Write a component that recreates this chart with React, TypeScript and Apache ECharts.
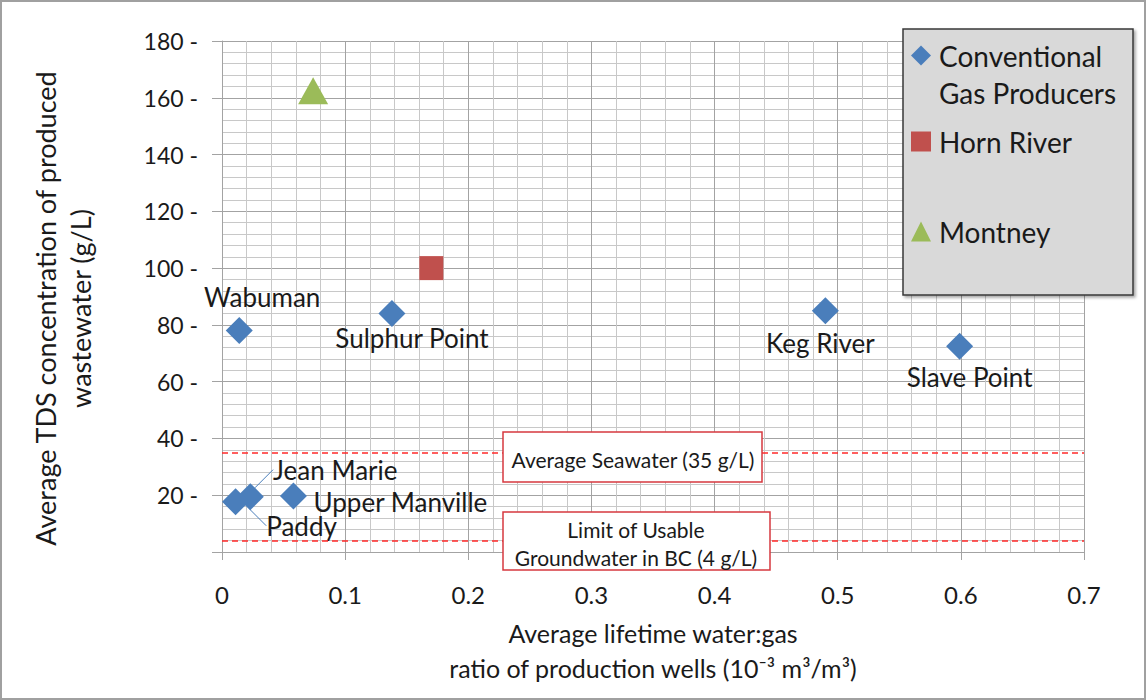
import React, { useEffect, useRef } from 'react';
import * as echarts from 'echarts';

// ---- Data ----
const conventionalNames = ['Wabuman', 'Sulphur Point', 'Keg River', 'Slave Point', 'Jean Marie', 'Upper Manville', 'Paddy'];
const conventionalX = [0.014, 0.138, 0.49, 0.599, 0.023, 0.058, 0.011];
const conventionalY = [78, 84, 85, 72.5, 19.5, 19.7, 17.7];
const hornRiverX = [0.17];
const hornRiverY = [100];
const montneyX = [0.074];
const montneyY = [162.5];
const seawaterTDS = 35;
const groundwaterTDS = 4;
const seriesNames = ['Conventional\nGas Producers', 'Horn River', 'Montney'];
const xAxisTitle = 'Average lifetime water:gas\nratio of production wells (10\u207B\u00B3 m\u00B3/m\u00B3)';
const yAxisTitle = 'Average TDS concentration of produced\nwastewater (g/L)';
const seawaterLabel = 'Average Seawater (35 g/L)';
const groundwaterLabel = 'Limit of Usable\nGroundwater in BC (4 g/L)';
const leaderLineNames = ['Jean Marie', 'Paddy'];

// ---- Styling (label offsets in px) ----
const labelOffsets: number[][] = [
  [23, -34],
  [20, 24],
  [-5, 32],
  [10, 31],
  [85, -27],
  [107, 6],
  [66, 24],
];

const FONT = "Lato, 'Open Sans', sans-serif";
const TXT = '#1a1a1a';
const GRID_MAJOR = '#a3a3a3';
const GRID_MINOR = '#c8c8c8';

export default function App() {
  const ref = useRef<HTMLDivElement>(null);

  useEffect(() => {
    document.body.style.margin = '0';
    const chart = echarts.init(ref.current as HTMLDivElement, undefined, { renderer: 'svg' });

    const conventionalData = conventionalNames.map((n, i) => ({
      name: n,
      value: [conventionalX[i], conventionalY[i]],
      labelLine: { show: leaderLineNames.includes(n), lineStyle: { color: '#4a7ebb', width: 1 } },
    }));

    const legendBase = {
      orient: 'vertical',
      padding: 0,
      itemWidth: 20,
      itemHeight: 20,
      selectedMode: false,
      textStyle: { fontFamily: FONT, fontSize: 28, color: TXT, lineHeight: 37, padding: [0, 0, 0, 3] },
    };

    const option: any = {
      animation: false,
      backgroundColor: '#ffffff',
      textStyle: { fontFamily: FONT },
      grid: { left: 222, top: 41, right: 62, bottom: 148 },
      xAxis: {
        type: 'value',
        min: 0,
        max: 0.7,
        interval: 0.1,
        name: xAxisTitle,
        nameLocation: 'middle',
        nameGap: 63,
        nameTextStyle: { fontFamily: FONT, fontSize: 25, lineHeight: 35, color: TXT },
        axisLine: { show: true, lineStyle: { color: GRID_MAJOR, width: 1 } },
        axisTick: { show: true, length: 8, lineStyle: { color: GRID_MAJOR } },
        axisLabel: { margin: 30, fontSize: 24, color: TXT, fontFamily: FONT },
        splitLine: { show: true, lineStyle: { color: GRID_MAJOR, width: 1 } },
        minorTick: { show: false, splitNumber: 5 },
        minorSplitLine: { show: true, lineStyle: { color: GRID_MINOR, width: 1 } },
      },
      yAxis: {
        type: 'value',
        min: 0,
        max: 180,
        interval: 20,
        name: yAxisTitle,
        nameLocation: 'middle',
        nameRotate: 90,
        nameGap: 124,
        nameTextStyle: { fontFamily: FONT, fontSize: 27, lineHeight: 35, color: TXT, padding: [0, 24, 0, 0] },
        axisLine: { show: true, lineStyle: { color: GRID_MAJOR, width: 1 } },
        axisTick: { show: true, length: 10, lineStyle: { color: GRID_MAJOR } },
        axisLabel: {
          margin: 24,
          fontSize: 23,
          color: TXT,
          fontFamily: FONT,
          formatter: (v: number) => (v === 0 ? '' : `${v} -`),
        },
        splitLine: { show: true, lineStyle: { color: GRID_MAJOR, width: 1 } },
        minorTick: { show: false, splitNumber: 5 },
        minorSplitLine: { show: true, lineStyle: { color: GRID_MINOR, width: 1 } },
      },
      legend: [
        {
          ...legendBase,
          left: 911,
          top: 0,
          data: [{ name: seriesNames[0], icon: 'diamond' }],
          formatter: (name: string) => ' \n' + name,
        },
        { ...legendBase, left: 911, top: 123, data: [{ name: seriesNames[1], icon: 'rect' }] },
        { ...legendBase, left: 911, top: 213, data: [{ name: seriesNames[2], icon: 'triangle' }] },
      ],
      graphic: [
        {
          type: 'rect',
          z: 0,
          silent: true,
          shape: { x: 1, y: 1, width: 1144, height: 698 },
          style: { fill: 'none', stroke: '#a0a0a0', lineWidth: 2 },
        },
        {
          type: 'rect',
          z: 3,
          silent: true,
          shape: { x: 903, y: 29, width: 230, height: 266 },
          style: {
            fill: '#d9d9d9',
            stroke: '#3a3a3a',
            lineWidth: 1.5,
            shadowColor: 'rgba(0,0,0,0.35)',
            shadowBlur: 3,
            shadowOffsetX: 2,
            shadowOffsetY: 2,
          },
        },
        {
          type: 'rect',
          z: 10,
          silent: true,
          shape: { x: 503, y: 432, width: 259, height: 50 },
          style: { fill: '#ffffff', stroke: '#d6383f', lineWidth: 1.5 },
        },
        {
          type: 'text',
          z: 11,
          silent: true,
          x: 633,
          y: 459,
          style: {
            text: seawaterLabel,
            fontFamily: FONT,
            fontSize: 21,
            fill: TXT,
            align: 'center',
            verticalAlign: 'middle',
          },
        },
        {
          type: 'rect',
          z: 10,
          silent: true,
          shape: { x: 503, y: 512, width: 267, height: 58 },
          style: { fill: '#ffffff', stroke: '#d6383f', lineWidth: 1.5 },
        },
        {
          type: 'text',
          z: 11,
          silent: true,
          x: 636,
          y: 543,
          style: {
            text: groundwaterLabel,
            fontFamily: FONT,
            fontSize: 21,
            lineHeight: 28,
            fill: TXT,
            align: 'center',
            verticalAlign: 'middle',
          },
        },
      ],
      series: [
        {
          name: seriesNames[0],
          type: 'scatter',
          symbol: 'diamond',
          symbolSize: 27,
          itemStyle: { color: '#4a7ebb', opacity: 1 },
          data: conventionalData,
          label: {
            show: true,
            position: 'inside',
            formatter: '{b}',
            fontFamily: FONT,
            fontSize: 26,
            color: TXT,
          },
          labelLine: { show: false },
          labelLayout: (p: any) => {
            const o = labelOffsets[p.dataIndex] || [0, 0];
            return { dx: o[0], dy: o[1] };
          },
          markLine: {
            silent: true,
            symbol: 'none',
            label: { show: false },
            lineStyle: { color: '#ff2a2a', type: [6, 4], width: 1.5 },
            data: [{ yAxis: seawaterTDS }, { yAxis: groundwaterTDS }],
          },
        },
        {
          name: seriesNames[1],
          type: 'scatter',
          symbol: 'rect',
          symbolSize: 24,
          itemStyle: { color: '#c0504d', opacity: 1 },
          data: hornRiverX.map((x, i) => [x, hornRiverY[i]]),
        },
        {
          name: seriesNames[2],
          type: 'scatter',
          symbol: 'triangle',
          symbolSize: [30, 27],
          itemStyle: { color: '#9bbb59', opacity: 1 },
          data: montneyX.map((x, i) => [x, montneyY[i]]),
        },
      ],
    };

    chart.setOption(option);
    return () => chart.dispose();
  }, []);

  return <div ref={ref} style={{ width: 1146, height: 700 }} />;
}
